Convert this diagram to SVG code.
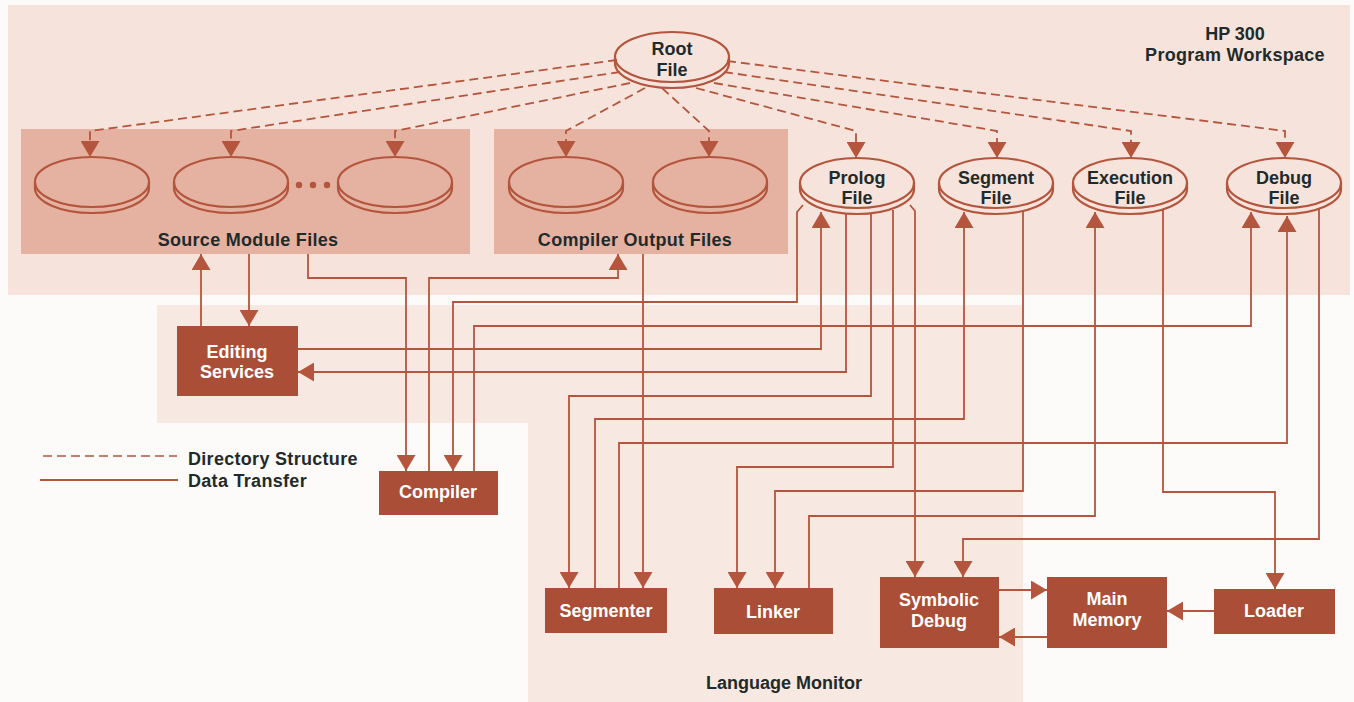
<svg xmlns="http://www.w3.org/2000/svg" xmlns:xlink="http://www.w3.org/1999/xlink" width="1354" height="702" viewBox="0 0 1354 702">
<style>
.lbl{font-family:"Liberation Sans",Arial,sans-serif;font-weight:bold;font-size:18px;fill:#1f2b2b;text-anchor:middle}
.wl{font-family:"Liberation Sans",Arial,sans-serif;font-weight:bold;font-size:18px;fill:#ffffff;text-anchor:middle}
.box{fill:#ab4e37}
.disk{fill:none;stroke:#b4553d;stroke-width:2.2}
.dash{fill:none;stroke:#b4553d;stroke-width:1.8;stroke-dasharray:9 5;marker-end:url(#ah)}
.data{fill:none;stroke:#b4553d;stroke-width:1.8;marker-end:url(#ah)}
</style>
<defs>
<marker id="ah" viewBox="0 0 16 19" refX="16" refY="9.5" markerWidth="16" markerHeight="19" markerUnits="userSpaceOnUse" orient="auto">
<path d="M0,0 L16,9.5 L0,19 Z" fill="#b4553d"/>
</marker>
<g id="diskshape">
<path class="disk" d="M-57,0 L-57,6 A57 25 0 0 0 57,6 L57,0"/>
<ellipse class="disk" cx="0" cy="0" rx="57" ry="25"/>
</g>
</defs>
<rect x="0" y="0" width="1354" height="702" fill="#fdfbf9"/>
<rect id="workspace" x="8" y="5" width="1342" height="290" fill="#f6e4dc"/>
<path id="monitor-area" d="M157,305 L1023,305 L1023,702 L528,702 L528,423 L157,423 Z" fill="#f7e8e1"/>
<rect id="source-area" x="21" y="129" width="449" height="125" fill="#e5b2a2"/>
<rect id="output-area" x="494" y="129" width="294" height="125" fill="#e5b2a2"/>

<g id="labels">
<text class="lbl" x="1235" y="40">HP 300</text>
<text class="lbl" x="1235" y="61" style="letter-spacing:0.3px">Program Workspace</text>
<text class="lbl" x="248" y="246" style="letter-spacing:0.3px">Source Module Files</text>
<text class="lbl" x="635" y="246" style="letter-spacing:0.3px">Compiler Output Files</text>
<text class="lbl" x="784" y="689">Language Monitor</text>
</g>

<g id="legend">
<line x1="43" y1="456" x2="177" y2="456" stroke="#b4553d" stroke-width="1.6" stroke-dasharray="9 5"/>
<line x1="40" y1="480" x2="178" y2="480" stroke="#b4553d" stroke-width="1.8"/>
<text class="lbl" x="188" y="465" style="text-anchor:start;letter-spacing:0.3px">Directory Structure</text>
<text class="lbl" x="188" y="487" style="text-anchor:start;letter-spacing:0.3px">Data Transfer</text>
</g>

<g id="connectors">
<path class="dash" d="M617,60 L90,131 L90,157"/>
<path class="dash" d="M620,72 L231,131 L231,157"/>
<path class="dash" d="M630,83 L395,131 L395,157"/>
<path class="dash" d="M645,88 L566,131 L566,157"/>
<path class="dash" d="M662,88 L709,131 L709,157"/>
<path class="dash" d="M696,88 L856,131 L856,158"/>
<path class="dash" d="M714,83 L997,131 L997,158"/>
<path class="dash" d="M724,72 L1131,131 L1131,158"/>
<path class="dash" d="M727,61 L1285,131 L1285,158"/>

<path class="data" d="M201,326 L201,254"/>
<path class="data" d="M249,254 L249,326"/>
<path class="data" d="M308,254 L308,278 L406,278 L406,471"/>
<path class="data" d="M429,471 L429,278 L618,278 L618,254"/>
<path class="data" d="M803,205 L797,212 L797,302 L453,302 L453,471"/>
<path class="data" d="M474,471 L474,326 L1251,326 L1251,212"/>
<path class="data" d="M298,349 L821,349 L821,212"/>
<path class="data" d="M846,214 L846,372 L298,372"/>
<path class="data" d="M871,214 L871,396 L569,396 L569,588"/>
<path class="data" d="M595,588 L595,419 L964,419 L964,212"/>
<path class="data" d="M619,588 L619,443 L1287,443 L1287,216"/>
<path class="data" d="M643,254 L643,588"/>
<path class="data" d="M893,210 L893,467 L737,467 L737,588"/>
<path class="data" d="M1023,211 L1023,491 L775,491 L775,588"/>
<path class="data" d="M809,588 L809,516 L1095,516 L1095,212"/>
<path class="data" d="M910,205 L915,211 L915,577"/>
<path class="data" d="M1163,210 L1163,492 L1275,492 L1275,589"/>
<path class="data" d="M1319,209 L1319,539 L963,539 L963,577"/>
<path class="data" d="M999,590 L1047,590"/>
<path class="data" d="M1047,637 L999,637"/>
<path class="data" d="M1214,611 L1167,611"/>
</g>

<g id="root-file">
<use xlink:href="#diskshape" transform="translate(672,57)"/>
<text class="lbl" x="672" y="55">Root</text>
<text class="lbl" x="672" y="76">File</text>
</g>
<g id="source-file-1"><use xlink:href="#diskshape" transform="translate(92,182)"/></g>
<g id="source-file-2"><use xlink:href="#diskshape" transform="translate(231,182)"/></g>
<g id="source-dots" fill="#b4553d">
<circle cx="299" cy="185" r="3.2"/><circle cx="313" cy="185" r="3.2"/><circle cx="327" cy="185" r="3.2"/>
</g>
<g id="source-file-3"><use xlink:href="#diskshape" transform="translate(395,182)"/></g>
<g id="output-file-1"><use xlink:href="#diskshape" transform="translate(566,182)"/></g>
<g id="output-file-2"><use xlink:href="#diskshape" transform="translate(710,182)"/></g>
<g id="prolog-file">
<use xlink:href="#diskshape" transform="translate(857,183)"/>
<text class="lbl" x="857" y="184">Prolog</text>
<text class="lbl" x="857" y="204">File</text>
</g>
<g id="segment-file">
<use xlink:href="#diskshape" transform="translate(996,183)"/>
<text class="lbl" x="996" y="184">Segment</text>
<text class="lbl" x="996" y="204">File</text>
</g>
<g id="execution-file">
<use xlink:href="#diskshape" transform="translate(1130,183)"/>
<text class="lbl" x="1130" y="184">Execution</text>
<text class="lbl" x="1130" y="204">File</text>
</g>
<g id="debug-file">
<use xlink:href="#diskshape" transform="translate(1284,183)"/>
<text class="lbl" x="1284" y="184">Debug</text>
<text class="lbl" x="1284" y="204">File</text>
</g>

<g id="editing-services">
<rect class="box" x="177" y="326" width="121" height="70"/>
<text class="wl" x="237" y="358">Editing</text>
<text class="wl" x="237" y="378">Services</text>
</g>
<g id="compiler">
<rect class="box" x="379" y="471" width="119" height="44"/>
<text class="wl" x="438" y="498">Compiler</text>
</g>
<g id="segmenter">
<rect class="box" x="545" y="588" width="122" height="45"/>
<text class="wl" x="606" y="617">Segmenter</text>
</g>
<g id="linker">
<rect class="box" x="714" y="588" width="119" height="46"/>
<text class="wl" x="773" y="618">Linker</text>
</g>
<g id="symbolic-debug">
<rect class="box" x="880" y="577" width="119" height="71"/>
<text class="wl" x="939" y="606">Symbolic</text>
<text class="wl" x="939" y="627">Debug</text>
</g>
<g id="main-memory">
<rect class="box" x="1047" y="577" width="120" height="71"/>
<text class="wl" x="1107" y="605">Main</text>
<text class="wl" x="1107" y="626">Memory</text>
</g>
<g id="loader">
<rect class="box" x="1214" y="589" width="121" height="45"/>
<text class="wl" x="1274" y="617">Loader</text>
</g>
</svg>
